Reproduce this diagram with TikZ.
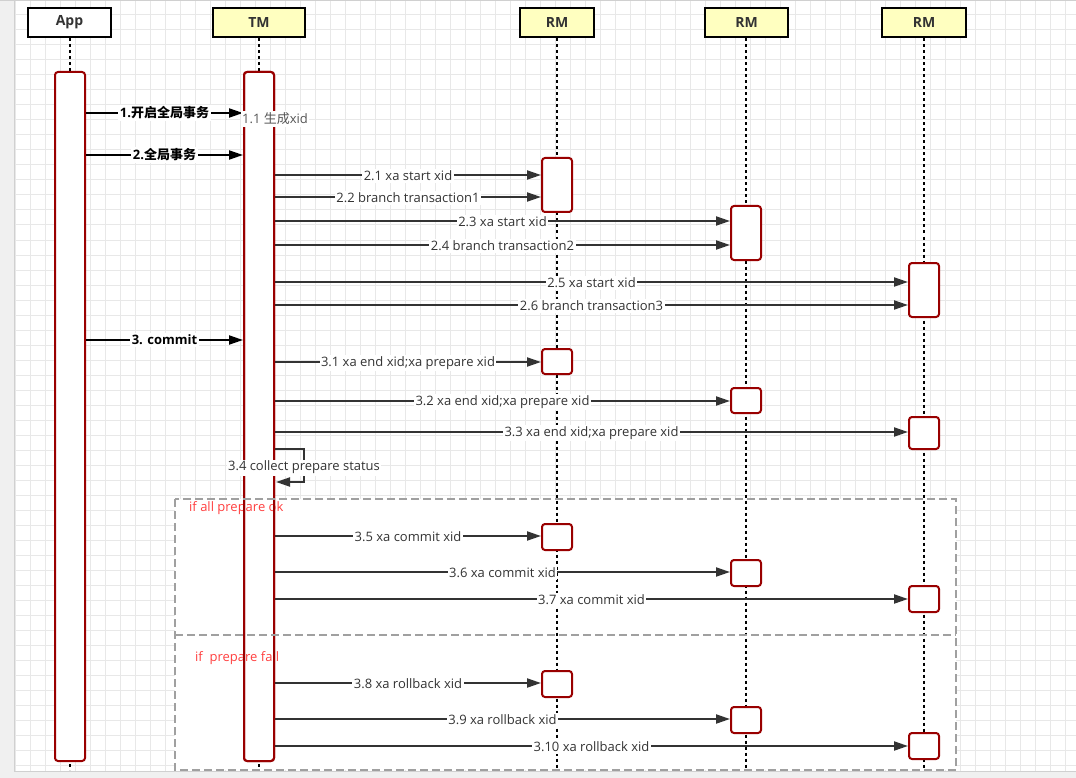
\documentclass[tikz,border=0pt]{standalone}
\usepackage{fontspec}
\setmainfont{Open Sans}
\newfontfamily\cjk{Noto Sans CJK SC}
\usetikzlibrary{arrows.meta}
\definecolor{actred}{HTML}{990000}
\definecolor{hdrfill}{HTML}{FFFFC0}
\definecolor{msgc}{HTML}{333333}
\definecolor{txtc}{HTML}{333333}
\definecolor{gridc}{HTML}{E8E8E8}
\definecolor{framec}{HTML}{A0A0A0}
\definecolor{redtxt}{HTML}{FF4040}
\definecolor{canvasgray}{HTML}{F0F0F0}
\definecolor{edgegray}{HTML}{D0D0D0}
\definecolor{lbl11}{HTML}{555555}
\begin{document}
\begin{tikzpicture}[x=1pt,y=-1pt,
  hdr/.style={draw=black,line width=2pt,minimum height=29pt,inner sep=0pt,font=\fontsize{14}{16}\selectfont\bfseries,text=txtc},
  act/.style={draw=actred,line width=2pt,fill=white,rounded corners=3pt,minimum width=30pt,inner sep=0pt,anchor=north},
  actborder/.style={draw=actred,line width=2pt,rounded corners=3pt},
  life/.style={line width=2pt,dash pattern=on 3pt off 3pt,black},
  msgarrow/.style={draw=msgc,line width=2pt,-{Triangle[length=14pt,width=9pt]}},
  apparrow/.style={draw=black,line width=2pt,-{Triangle[length=14pt,width=9pt]}},
  lbl/.style={fill=white,inner sep=1.5pt,text=msgc,font=\fontsize{13}{15}\selectfont,yshift=-1pt},
  blbl/.style={fill=white,inner sep=1.5pt,text=black,font=\fontsize{13}{15}\selectfont\bfseries},
  framebox/.style={draw=framec,line width=2pt,dash pattern=on 8pt off 4pt},
  ftxt/.style={text=redtxt,font=\fontsize{13}{15}\selectfont,anchor=west,inner sep=0pt},
]
\useasboundingbox (0,0) rectangle (1076,778);
% canvas and grid
\fill[white] (0,0) rectangle (1076,778);
\foreach \x in {15,30,...,1075} \draw[gridc,line width=1pt] (\x,0) -- (\x,771);
\foreach \y in {15,30,...,770} \draw[gridc,line width=1pt] (14,\y) -- (1076,\y);
\fill[canvasgray] (0,0) rectangle (14,778);
\fill[canvasgray] (0,771) rectangle (1076,778);
\draw[edgegray,line width=1pt] (14,1) -- (14,771) -- (1076,771);
\draw[edgegray,line width=1.5pt] (0,0.75) -- (1076,0.75);
% frame fills
\fill[white] (175,499) rectangle (956,770);
% headers
\node[hdr,fill=white,minimum width=83pt] (app) at (69.5,22.5) {\raisebox{-1.5pt}{App}};
\node[hdr,fill=hdrfill,minimum width=92pt] (tm) at (259,22.5) {\raisebox{-1.5pt}{TM}};
\node[hdr,fill=hdrfill,minimum width=74pt] (rm1) at (557,23) {\raisebox{-1.5pt}{RM}};
\node[hdr,fill=hdrfill,minimum width=83pt] (rm2) at (746.5,23) {\raisebox{-1.5pt}{RM}};
\node[hdr,fill=hdrfill,minimum width=84pt] (rm3) at (924,23) {\raisebox{-1.5pt}{RM}};
% lifelines
\coordinate (bot) at (0,770);
\draw[life] (app.south -| 70,0) -- (70,770);
\draw[life] (tm.south) -- (tm.south |- bot);
\draw[life] (rm1.south) -- (rm1.south |- bot);
\draw[life] (rm2.south -| 746,0) -- (746,770);
\draw[life] (rm3.south) -- (rm3.south |- bot);
% activations
\node[act,minimum height=689pt] (appa) at (70,71) {};
\node[act,minimum height=689pt] (tma) at (259,71) {};
\node[act,minimum height=54pt] (r1a) at (557,157) {};
\node[act,minimum height=25pt] (r1b) at (557,348) {};
\node[act,minimum height=26pt] (r1c) at (557,523) {};
\node[act,minimum height=26pt] (r1d) at (557,670) {};
\node[act,minimum height=54pt] (r2a) at (746,205) {};
\node[act,minimum height=25pt] (r2b) at (746,387) {};
\node[act,minimum height=26pt] (r2c) at (746,559) {};
\node[act,minimum height=26pt] (r2d) at (746,706) {};
\node[act,minimum height=54pt] (r3a) at (924,262) {};
\node[act,minimum height=32pt] (r3b) at (924,416) {};
\node[act,minimum height=26pt] (r3c) at (924,585) {};
\node[act,minimum height=26pt] (r3d) at (924,732) {};
% frame labels (over activation fill, under its border)
\node[ftxt] (f1) at (189,508) {if all prepare ok};
\node[ftxt] (f2) at (195,658) {if\ \ prepare fail};
\draw[actborder] ([shift={(1pt,-1pt)}]tma.north west) rectangle ([shift={(-1pt,1pt)}]tma.south east);
% frames
\draw[framebox] (175,499) rectangle (956,770);
\draw[framebox] (175,635) -- (956,635);
% messages App -> TM
\draw[apparrow] (appa.east |- 0,113) -- node[blbl]{1.{\cjk 开启全局事务}} (tma.west |- 0,113);
\draw[apparrow] (appa.east |- 0,155) -- node[blbl]{2.{\cjk 全局事务}} (tma.west |- 0,155);
\draw[apparrow] (appa.east |- 0,340) -- node[blbl]{3. commit} (tma.west |- 0,340);
% TM -> RM
\draw[msgarrow] (tma.east |- 0,175) -- node[lbl]{2.1 xa start xid} (r1a.west |- 0,175);
\draw[msgarrow] (tma.east |- 0,197) -- node[lbl]{2.2 branch transaction1} (r1a.west |- 0,197);
\draw[msgarrow] (tma.east |- 0,221) -- node[lbl]{2.3 xa start xid} (r2a.west |- 0,221);
\draw[msgarrow] (tma.east |- 0,245) -- node[lbl]{2.4 branch transaction2} (r2a.west |- 0,245);
\draw[msgarrow] (tma.east |- 0,282) -- node[lbl]{2.5 xa start xid} (r3a.west |- 0,282);
\draw[msgarrow] (tma.east |- 0,305) -- node[lbl]{2.6 branch transaction3} (r3a.west |- 0,305);
\draw[msgarrow] (tma.east |- 0,362) -- node[lbl]{3.1 xa end xid;xa prepare xid} (r1b.west |- 0,362);
\draw[msgarrow] (tma.east |- 0,401) -- node[lbl]{3.2 xa end xid;xa prepare xid} (r2b.west |- 0,401);
\draw[msgarrow] (tma.east |- 0,432) -- node[lbl]{3.3 xa end xid;xa prepare xid} (r3b.west |- 0,432);
\draw[msgarrow] (tma.east |- 0,449) -- (304,449) -- node[lbl,yshift=-1pt]{3.4 collect prepare status} (304,482) -- ([xshift=1pt]tma.east |- 0,482);
\draw[msgarrow] (tma.east |- 0,536) -- node[lbl]{3.5 xa commit xid} (r1c.west |- 0,536);
\draw[msgarrow] (tma.east |- 0,572) -- node[lbl]{3.6 xa commit xid} (r2c.west |- 0,572);
\draw[msgarrow] (tma.east |- 0,599) -- node[lbl]{3.7 xa commit xid} (r3c.west |- 0,599);
\draw[msgarrow] (tma.east |- 0,683) -- node[lbl]{3.8 xa rollback xid} (r1d.west |- 0,683);
\draw[msgarrow] (tma.east |- 0,719) -- node[lbl]{3.9 xa rollback xid} (r2d.west |- 0,719);
\draw[msgarrow] (tma.east |- 0,746) -- node[lbl]{3.10 xa rollback xid} (r3d.west |- 0,746);
% self note
\node[fill=white,inner sep=1.5pt,text=lbl11,font=\fontsize{13}{15}\selectfont] (n11) at (275,119) {1.1 {\cjk 生成}xid};
\end{tikzpicture}
\end{document}
